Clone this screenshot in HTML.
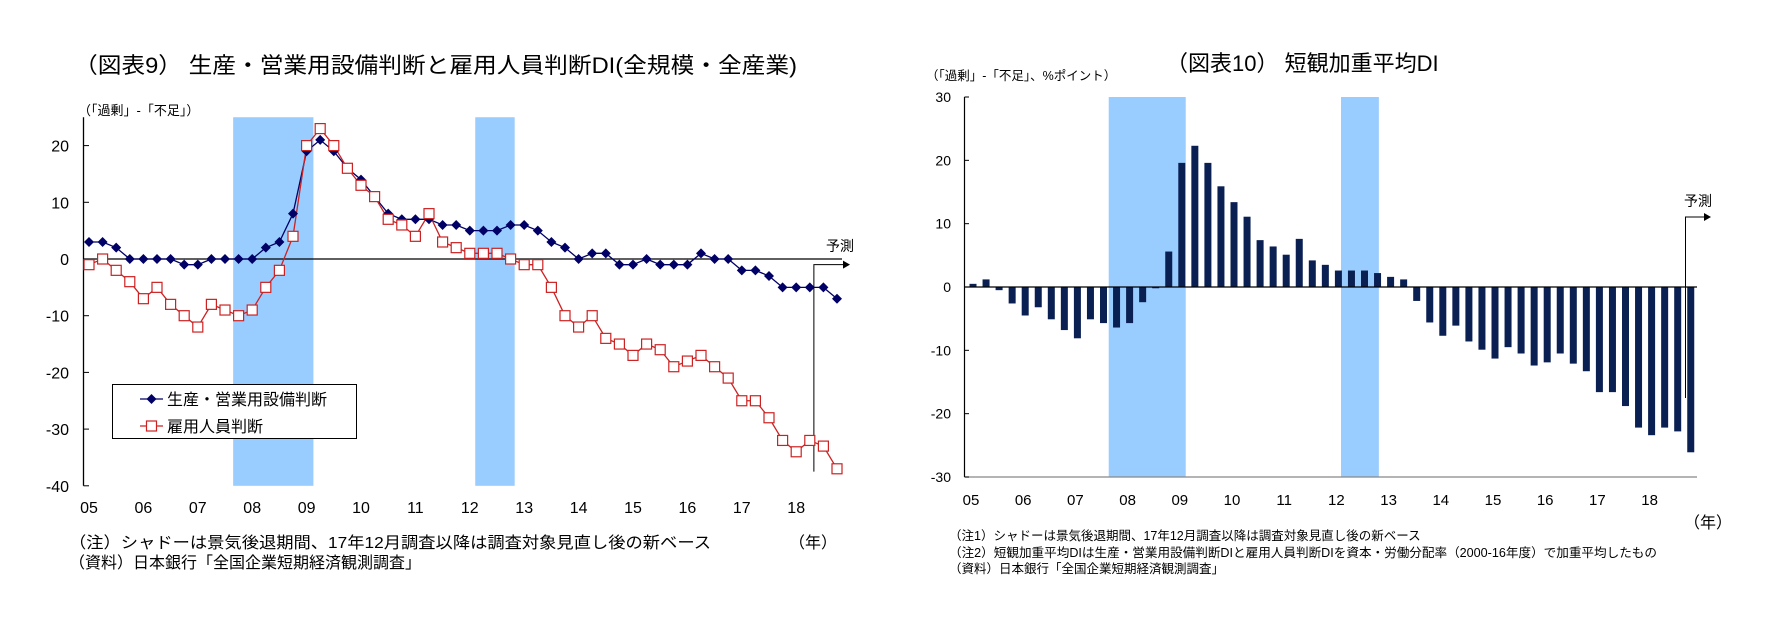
<!DOCTYPE html>
<html><head><meta charset="utf-8">
<style>
html,body{margin:0;padding:0;background:#fff;}
svg{display:block;font-family:"Liberation Sans","Noto Sans CJK JP",sans-serif;}
</style></head>
<body>
<svg id="chart" width="1770" height="620" viewBox="0 0 1770 620" xmlns="http://www.w3.org/2000/svg">
  <rect x="0" y="0" width="1770" height="620" fill="#fff"/>
  <text x="74" y="73" font-size="22" fill="#000" textLength="723" lengthAdjust="spacingAndGlyphs">（図表9） 生産・営業用設備判断と雇用人員判断DI(全規模・全産業)</text>
  <text x="78" y="115" font-size="13" fill="#000">（「過剰」-「不足」）</text>
  <text x="1166" y="71" font-size="22" fill="#000">（図表10） 短観加重平均DI</text>
  <text x="926" y="80" font-size="12.5" fill="#000">（「過剰」-「不足」、%ポイント）</text>
  <g id="left"></g>
  <g id="right"></g>
  <text x="789" y="548" font-size="16" fill="#000">（年）</text>
  <text x="69" y="548" font-size="16" fill="#000" textLength="642" lengthAdjust="spacingAndGlyphs">（注）シャドーは景気後退期間、17年12月調査以降は調査対象見直し後の新ベース</text>
  <text x="69" y="568" font-size="16" fill="#000">（資料）日本銀行「全国企業短期経済観測調査」</text>
  <text x="1684" y="528" font-size="16" fill="#000">（年）</text>
  <text x="949" y="540" font-size="12.5" fill="#000">（注1）シャドーは景気後退期間、17年12月調査以降は調査対象見直し後の新ベース</text>
  <text x="949" y="557" font-size="12.5" fill="#000" textLength="708" lengthAdjust="spacingAndGlyphs">（注2）短観加重平均DIは生産・営業用設備判断DIと雇用人員判断DIを資本・労働分配率（2000-16年度）で加重平均したもの</text>
  <text x="949" y="573" font-size="12.5" fill="#000">（資料）日本銀行「全国企業短期経済観測調査」</text>
</svg>
<script>
// ---- data ----
const yearLabels = ["05","06","07","08","09","10","11","12","13","14","15","16","17","18"];
const equipmentDI = [3,3,2,0,0,0,0,-1,-1,0,0,0,0,2,3,8,19,21,19,16,14,11,8,7,7,7,6,6,5,5,5,6,6,5,3,2,0,1,1,-1,-1,0,-1,-1,-1,1,0,0,-2,-2,-3,-5,-5,-5,-5,-7];
const employmentDI = [-1,0,-2,-4,-7,-5,-8,-10,-12,-8,-9,-10,-9,-5,-2,4,20,23,20,16,13,11,7,6,4,8,3,2,1,1,1,0,-1,-1,-5,-10,-12,-10,-14,-15,-17,-15,-16,-19,-18,-17,-19,-21,-25,-25,-28,-32,-34,-32,-33,-37];
const weightedDI = [0.5,1.2,-0.5,-2.6,-4.5,-3.2,-5.1,-6.8,-8.1,-5.1,-5.7,-6.4,-5.7,-2.4,-0.2,5.6,19.6,22.3,19.6,15.9,13.4,11.1,7.4,6.4,5.1,7.6,4.2,3.5,2.6,2.6,2.6,2.2,1.6,1.2,-2.2,-5.6,-7.7,-6.1,-8.6,-9.9,-11.3,-9.5,-10.5,-12.4,-11.9,-10.5,-12.1,-13.3,-16.6,-16.6,-18.8,-22.2,-23.4,-22.2,-22.8,-26.1];
const leftTicks = [20,10,0,-10,-20,-30,-40];
const rightTicks = [30,20,10,0,-10,-20,-30];
const recessions = [[10.6,16.5],[28.4,31.3]]; // quarter index ranges (shading)

const NS="http://www.w3.org/2000/svg";
function mk(parent,tag,attrs){const e=document.createElementNS(NS,tag);for(const k in attrs)e.setAttribute(k,attrs[k]);parent.appendChild(e);return e;}

// ---- left chart ----
const L=document.getElementById('left');
const lx=i=>89+i*13.6;
const ly=v=>259-v*5.67;
recessions.forEach((r,k)=>{
  const b=mk(L,'rect',{x:lx(r[0]),y:ly(25),width:lx(r[1])-lx(r[0]),height:ly(-40)-ly(25),fill:'#99ccff'});
  
  
});
const lax=mk(L,'line',{x1:83.5,y1:ly(25),x2:83.5,y2:ly(-40),stroke:'#000','stroke-width':1.3});


leftTicks.forEach(t=>{
  mk(L,'line',{x1:83.5,y1:ly(t),x2:89,y2:ly(t),stroke:'#000'});
  const tx=mk(L,'text',{x:69,y:ly(t)+6,'font-size':16,'text-anchor':'end',fill:'#000'});
  tx.textContent=t;
  
  
});
const lz=mk(L,'line',{x1:83.5,y1:ly(0),x2:842,y2:ly(0),stroke:'#000','stroke-width':1.2});


yearLabels.forEach((y,k)=>{
  const tx=mk(L,'text',{x:lx(k*4),y:513,'font-size':16,'text-anchor':'middle',fill:'#000'});
  tx.textContent=y;
  
  
});
// forecast marker
const lf=mk(L,'path',{d:`M${lx(53.3)},${ly(-37.5)} V${ly(-1)} H845`,stroke:'#000',fill:'none','stroke-width':1});


mk(L,'path',{d:`M850,${ly(-1)} l-7,-4 v8 z`,fill:'#000'});
const lft=mk(L,'text',{x:826,y:251,'font-size':14,fill:'#000'});
lft.textContent='予測';


// series
const eqLine=mk(L,'polyline',{points:equipmentDI.map((v,i)=>lx(i)+','+ly(v)).join(' '),fill:'none',stroke:'#000066','stroke-width':1.3});


const emLine=mk(L,'polyline',{points:employmentDI.map((v,i)=>lx(i)+','+ly(v)).join(' '),fill:'none',stroke:'#cc2222','stroke-width':1.3});


equipmentDI.forEach((v,i)=>{
  const p=mk(L,'path',{d:`M${lx(i)},${ly(v)-5} l5,5 l-5,5 l-5,-5 z`,fill:'#000066'});
  
  
});
employmentDI.forEach((v,i)=>{
  const p=mk(L,'rect',{x:lx(i)-5,y:ly(v)-5,width:10,height:10,fill:'#fff',stroke:'#cc2222','stroke-width':1.2});
  
  
});
// legend
const lg=mk(L,'g',{});


mk(lg,'rect',{x:112.5,y:384.5,width:244,height:54,fill:'#fff',stroke:'#000','stroke-width':1});
mk(lg,'line',{x1:140,y1:399,x2:163,y2:399,stroke:'#000066','stroke-width':1.3});
mk(lg,'path',{d:'M151.5,394 l5,5 l-5,5 l-5,-5 z',fill:'#000066'});
const lt1=mk(lg,'text',{x:167,y:405,'font-size':16,fill:'#000'});lt1.textContent='生産・営業用設備判断';


mk(lg,'line',{x1:140,y1:426,x2:163,y2:426,stroke:'#cc2222','stroke-width':1.3});
mk(lg,'rect',{x:146.5,y:421,width:10,height:10,fill:'#fff',stroke:'#cc2222','stroke-width':1.2});
const lt2=mk(lg,'text',{x:167,y:432,'font-size':16,fill:'#000'});lt2.textContent='雇用人員判断';



// ---- right chart ----
const R=document.getElementById('right');
const rx=i=>973+i*13.05;
const ry=v=>287-v*6.333;
recessions.forEach((r,k)=>{
  const b=mk(R,'rect',{x:rx(r[0]-0.2),y:ry(30),width:rx(r[1])-rx(r[0]),height:ry(-30)-ry(30),fill:'#99ccff'});
  
  
});
const rax=mk(R,'line',{x1:964.5,y1:ry(30),x2:964.5,y2:ry(-30),stroke:'#000','stroke-width':1.2});


const rbx=mk(R,'line',{x1:964.5,y1:ry(-30),x2:1697,y2:ry(-30),stroke:'#888','stroke-width':1.2});


rightTicks.forEach(t=>{
  mk(R,'line',{x1:964.5,y1:ry(t),x2:969,y2:ry(t),stroke:'#000'});
  const tx=mk(R,'text',{x:951,y:ry(t)+5,'font-size':14,'text-anchor':'end',fill:'#000'});
  tx.textContent=t;
  
  
});
weightedDI.forEach((v,i)=>{
  const b=mk(R,'rect',{x:rx(i)-3.5,y:Math.min(ry(v),ry(0)),width:7,height:Math.abs(ry(v)-ry(0)),fill:'#0a1f52'});
  
  
});
const rz=mk(R,'line',{x1:964.5,y1:ry(0),x2:1697,y2:ry(0),stroke:'#000','stroke-width':1.2});


yearLabels.forEach((y,k)=>{
  const tx=mk(R,'text',{x:rx(k*4)-2,y:505,'font-size':15,'text-anchor':'middle',fill:'#000'});
  tx.textContent=y;
  
  
});
const rf=mk(R,'path',{d:`M1685.5,398 V217 H1706`,stroke:'#000',fill:'none','stroke-width':1});


mk(R,'path',{d:'M1711,217 l-7,-4 v8 z',fill:'#000'});
const rft=mk(R,'text',{x:1684,y:206,'font-size':14,fill:'#000'});
rft.textContent='予測';


</script>
</body></html>
